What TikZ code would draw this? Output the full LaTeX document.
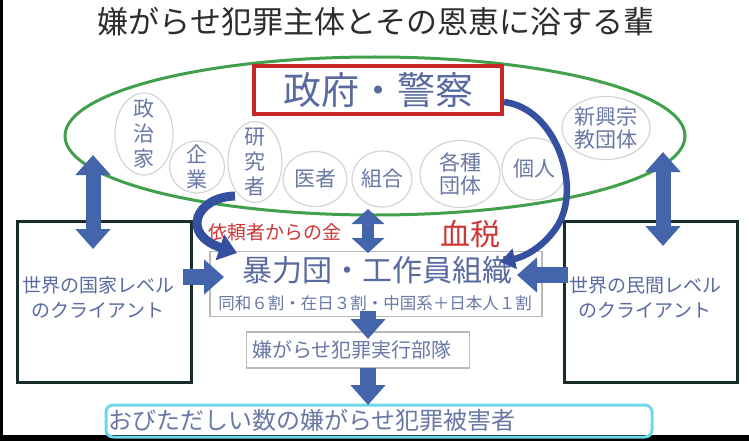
\documentclass[tikz,border=0pt]{standalone}
\usepackage{fontspec}
\setmainfont{Noto Sans CJK JP}
\usetikzlibrary{shapes.geometric,arrows.meta}
\definecolor{arrowblue}{RGB}{68,100,172}
\definecolor{curveblue}{RGB}{52,80,158}
\definecolor{textblue}{RGB}{88,106,160}
\definecolor{lighttext}{RGB}{105,120,165}
\definecolor{titlegray}{RGB}{45,45,45}
\definecolor{redtext}{RGB}{205,55,55}
\definecolor{boxred}{RGB}{200,40,40}
\definecolor{cloudgreen}{RGB}{65,160,75}
\definecolor{ellgray}{RGB}{212,212,216}
\definecolor{boxgray}{RGB}{185,185,185}
\definecolor{darkboxc}{RGB}{25,45,45}
\definecolor{cyanboxc}{RGB}{110,215,232}
\newcommand\fsz[2]{\fontsize{#1}{#2}\selectfont}
\begin{document}
\begin{tikzpicture}[x=1pt,y=-1pt,
  smallell/.style={draw=ellgray, line width=1.2pt, ellipse, inner sep=0pt},
  elltext/.style={text=lighttext, align=center, inner sep=0pt, font=\fsz{21}{25}},
  clientbox/.style={draw=darkboxc, line width=3pt, inner sep=0pt},
  clienttext/.style={text=textblue, align=center, inner sep=0pt, font=\fsz{19}{25}},
  greybox/.style={draw=boxgray, line width=1.2pt, inner sep=0pt},
  blockarrow/.style={draw=arrowblue, line width=16pt, -{Triangle[width=34pt,length=20pt]}},
  dblarrow/.style={draw=arrowblue, line width=15pt, {Triangle[width=34pt,length=20pt]}-{Triangle[width=34pt,length=20pt]}},
  curvearrow/.style={draw=curveblue, line cap=butt}
]
\useasboundingbox (0,0) rectangle (749,441);
\fill[white] (0,0) rectangle (749,441);
\fill[black] (0,0) rectangle (3,441);
\fill[black] (0,435) rectangle (749,441);

% title
\node[text=titlegray, font=\fsz{31}{36}, inner sep=0pt] (title) at (376,22) {嫌がらせ犯罪主体とその恩恵に浴する輩};

% green cloud
\node[ellipse, draw=cloudgreen, line width=3pt, minimum width=620pt, minimum height=158pt, inner sep=0pt] (cloud) at (375,136) {};

% small ellipses
\node[smallell, minimum width=58pt, minimum height=82pt] (e1) at (144,134) {};
\node[elltext] (t1) at (e1) {政\\治\\家};
\node[smallell, minimum width=55pt, minimum height=52pt] (e2) at (197,167) {};
\node[elltext] (t2) at (e2) {企\\業};
\node[smallell, minimum width=54pt, minimum height=81pt] (e3) at (255,162) {};
\node[elltext] (t3) at (e3) {研\\究\\者};
\node[smallell, minimum width=64pt, minimum height=55pt] (e4) at (315,179) {};
\node[elltext] (t4) at (e4) {医者};
\node[smallell, minimum width=60pt, minimum height=56pt] (e5) at (382,179) {};
\node[elltext] (t5) at (e5) {組合};
\node[smallell, minimum width=80pt, minimum height=67pt] (e6) at (460,174) {};
\node[elltext, font=\fsz{21}{23}] (t6) at (e6) {各種\\団体};
\node[smallell, minimum width=64pt, minimum height=62pt] (e7) at (534,169) {};
\node[elltext] (t7) at (e7) {個人};
\node[smallell, minimum width=88pt, minimum height=63pt] (e8) at (606,128) {};
\node[elltext, font=\fsz{21}{23}] (t8) at (e8) {新興宗\\教団体};

% government box
\node[draw=boxred, line width=4pt, minimum width=248pt, minimum height=48pt, inner sep=0pt,
      text=textblue, font=\fsz{38}{40}] (gov) at (378,90) {政府・警察};

% client boxes
\node[clientbox, minimum width=174pt, minimum height=161pt] (lbox) at (104,302) {};
\node[clienttext] (ltext) at (98,297) {世界の国家レベル\\のクライアント};
\node[clientbox, minimum width=173pt, minimum height=161pt] (rbox) at (651,302) {};
\node[clienttext] (rtext) at (645,297) {世界の民間レベル\\のクライアント};

% organisation box
\node[greybox, minimum width=332pt, minimum height=65pt] (org) at (376,284) {};
\node[text=textblue, font=\fsz{30}{32}, inner sep=0pt] (orgmain) at (377,270) {暴力団・工作員組織};
\node[text=lighttext, font=\fsz{16.5}{18}, inner sep=0pt] (orgsub) at (375,303) {同和６割・在日３割・中国系＋日本人１割};

% execution box
\node[greybox, minimum width=223pt, minimum height=36pt] (exec) at (358,350) {};
\node[text=lighttext, font=\fsz{20}{22}, inner sep=0pt, anchor=west] (exectext) at (252,350) {嫌がらせ犯罪実行部隊};

% victims box
\node[draw=cyanboxc, line width=3pt, rounded corners=7pt, minimum width=546pt, minimum height=32pt, inner sep=0pt] (victims) at (379,421) {};
\node[text=lighttext, font=\fsz{24}{26}, inner sep=0pt, anchor=west] (victext) at (108,420) {おびただしい数の嫌がらせ犯罪被害者};

% red labels
\node[text=redtext, font=\fsz{19}{21}, inner sep=0pt] (fee) at (275,232) {依頼者からの金};
\node[text=redtext, font=\fsz{30}{32}, inner sep=0pt] (tax) at (470,234) {血税};

% arrow end points
\coordinate (lvtop) at (93,155);
\coordinate (lvbot) at (93,249);
\coordinate (rvtop) at (663,152);
\coordinate (rvbot) at (663,246);
\coordinate (cvtop) at (368,209);
\coordinate (cvbot) at (368,253);
\coordinate (lhs) at (183,277);
\coordinate (lhe) at (224,277);
\coordinate (rhs) at (568,275);
\coordinate (rhe) at (517,275);
\coordinate (d1s) at (368,311);
\coordinate (d1e) at (368,339);
\coordinate (d2s) at (368,368);
\coordinate (d2e) at (368,405);
\coordinate (lcs) at (235,196);
\coordinate (lce) at (237,253);
\coordinate (rce) at (500,262);

% block arrows
\draw[dblarrow] (lvtop) -- (lvbot);
\draw[dblarrow] (rvtop) -- (rvbot);
\draw[draw=arrowblue, line width=12pt, {Triangle[width=32pt,length=15pt]}-{Triangle[width=32pt,length=15pt]}] (cvtop) -- (cvbot);
\draw[blockarrow] (lhs) -- (lhe);
\draw[blockarrow] (rhs) -- (rhe);
\draw[blockarrow] (d1s) -- (d1e);
\draw[blockarrow] (d2s) -- (d2e);

% curved arrows
\draw[curvearrow, line width=9pt, -{Triangle[width=26pt,length=18pt]}]
  (lcs) .. controls (196,197) and (180,234) .. (lce);
\draw[curvearrow, line width=6.5pt, -{Triangle[width=20pt,length=15pt]}]
  ([yshift=-12pt]gov.east) .. controls (555,108) and (582,185) .. (558,225)
  .. controls (546,244) and (528,256) .. (rce);
\end{tikzpicture}
\end{document}
